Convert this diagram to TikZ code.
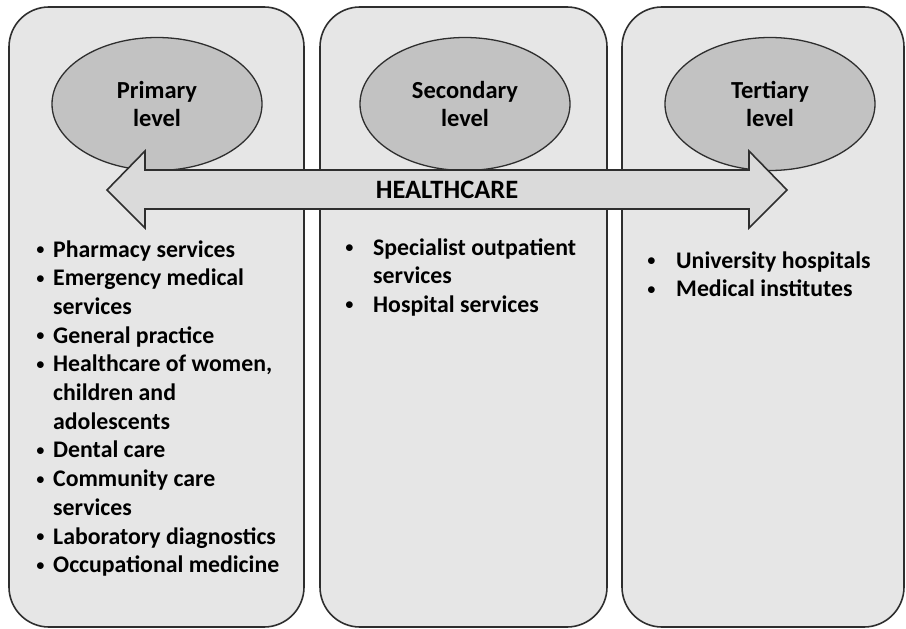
\documentclass[tikz,border=0pt]{standalone}
\usepackage{fontspec}
\setmainfont{Carlito}
\usetikzlibrary{shapes.geometric}

\definecolor{boxgray}{HTML}{E6E6E6}
\definecolor{ovalgray}{HTML}{C2C2C2}
\definecolor{arrowgray}{HTML}{DADADA}
\definecolor{edgegray}{HTML}{2E2E2E}

\newcommand{\dotitem}{\raisebox{2.6pt}{\scalebox{0.7}{$\bullet$}}}

\tikzset{
  levelbox/.style={draw=edgegray, line width=1.6pt, fill=boxgray, rounded corners=40pt},
  leveloval/.style={ellipse, draw=edgegray, line width=1.3pt, fill=ovalgray,
    minimum width=210pt, minimum height=133pt, align=center, inner sep=0pt,
    font=\fontsize{24.5}{28}\selectfont\bfseries},
  carearrow/.style={draw=edgegray, line width=1.6pt, fill=arrowgray},
  itemlist/.style={anchor=base west, inner sep=0pt, align=left,
    font=\fontsize{23.8}{28.7}\selectfont\bfseries}
}

\begin{document}
\begin{tikzpicture}[x=1pt, y=-1pt]
\useasboundingbox (0,0) rectangle (906,629);

% the three levels
\draw[levelbox] (9,7) rectangle (304,627);
\draw[levelbox] (320,7) rectangle (607,627);
\draw[levelbox] (622,7) rectangle (904,627);

\node[leveloval] (primary) at (157,104) {Primary\\level};
\node[leveloval] (secondary) at (465,104) {Secondary\\level};
\node[leveloval] (tertiary) at (770,104) {Tertiary\\level};

% healthcare double arrow
\draw[carearrow] (107,190) -- (145,151) -- (145,170) -- (749,170) -- (749,151)
  -- (787,190) -- (749,228) -- (749,209) -- (145,209) -- (145,228) -- cycle;
\node[font=\fontsize{26.5}{30}\selectfont\bfseries] (care) at (447,190) {HEALTHCARE};

% services of each level
\node[itemlist] (primarylist) at (36,257) {\begin{tabular}[t]{@{}p{17pt}@{}l@{}}
\dotitem & Pharmacy services\\
\dotitem & Emergency medical\\
 & services\\
\dotitem & General practice\\
\dotitem & Healthcare of women,\\
 & children and\\
 & adolescents\\
\dotitem & Dental care\\
\dotitem & Community care\\
 & services\\
\dotitem & Laboratory diagnostics\\
\dotitem & Occupational medicine
\end{tabular}};

\node[itemlist] (secondarylist) at (345,255) {\begin{tabular}[t]{@{}p{28pt}@{}l@{}}
\dotitem & Specialist outpatient\\
 & services\\
\dotitem & Hospital services
\end{tabular}};

\node[itemlist] (tertiarylist) at (647,268) {\begin{tabular}[t]{@{}p{29pt}@{}l@{}}
\dotitem & University hospitals\\
\dotitem & Medical institutes
\end{tabular}};
\end{tikzpicture}
\end{document}
